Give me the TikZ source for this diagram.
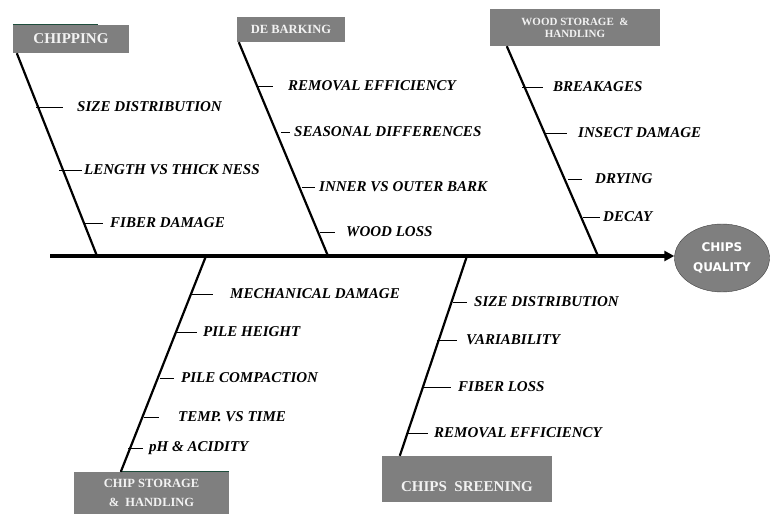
\documentclass[tikz,border=0pt]{standalone}
\usepackage{fontspec}
\setmainfont{Liberation Serif}
\newfontfamily\qualityfont{DejaVu Sans}
\usepackage{tikz}
\usetikzlibrary{arrows.meta,positioning,shapes.geometric,calc}
\definecolor{BoneGray}{HTML}{7F7F7F}
\definecolor{BoneText}{HTML}{F2F2F2}
\definecolor{BoneEdge}{HTML}{404040}
\definecolor{BoneGreen}{HTML}{1E4D3C}

\begin{document}
\begin{tikzpicture}[x=1pt, y=-1pt,
  cause/.style={fill=BoneGray, text=BoneText, inner sep=0pt, font=\bfseries},
  factor/.style={anchor=west, inner sep=0pt, font=\fontsize{15}{17}\selectfont\bfseries\itshape},
  bone/.style={line width=2.2pt},
  tick/.style={line width=0.9pt}]
\useasboundingbox (0,0) rectangle (772,514);
% head and spine
\node[ellipse, draw=BoneEdge, fill=BoneGray, text=white, minimum width=95pt, minimum height=68pt, inner sep=0pt, align=center, font=\qualityfont\bfseries\fontsize{12}{20}\selectfont] (quality) at (722,258) {CHIPS\\QUALITY};
\coordinate (tail) at (50,256);
\draw[line width=3.5pt, -{Triangle[length=10pt,width=10pt]}] (tail) -- (quality.west |- tail);
% cause boxes
\node[cause, minimum width=116pt, minimum height=28pt, font=\fontsize{15}{17}\selectfont\bfseries] (chipping) at (71,39) {CHIPPING};
\node[cause, minimum width=108pt, minimum height=25pt, font=\fontsize{12.5}{14}\selectfont\bfseries] (debarking) at (291,29.5) {DE BARKING};
\node[cause, minimum width=170pt, minimum height=37pt, align=center, font=\fontsize{11}{12}\selectfont\bfseries] (woodstore) at (575,27.5) {WOOD STORAGE \ \&\\HANDLING};
\node[cause, minimum width=155pt, minimum height=42pt, align=center, font=\fontsize{12.5}{19}\selectfont\bfseries] (chipstore) at (151.5,493) {CHIP STORAGE\\\&\ \ HANDLING};
\node[cause, minimum width=170pt, minimum height=46pt, text height=24pt, text depth=0pt, font=\fontsize{15}{17}\selectfont\bfseries] (screening) at (467,479) {CHIPS \ SREENING};
\draw[BoneGreen, line width=1pt] (chipping.north west) -- ++(85,0);
\draw[BoneGreen, line width=1pt] (chipstore.north east) -- ++(-109,0);
% bones to the spine
\coordinate (s1) at (97,256);
\coordinate (s2) at (328,256);
\coordinate (s3) at (598,256);
\coordinate (s4) at (206,256);
\coordinate (s5) at (467,256);
\draw[bone] ([xshift=4pt]chipping.south west) -- (s1);
\draw[bone] ([xshift=2pt]debarking.south west) -- (s2);
\draw[bone] ([xshift=17pt]woodstore.south west) -- (s3);
\draw[bone] ([xshift=47pt]chipstore.north west) -- (s4);
\draw[bone] ([xshift=18pt]screening.north west) -- (s5);
% chipping
\node[factor] (c1) at (77,107) {SIZE DISTRIBUTION};
\node[factor] (c2) at (84,170) {LENGTH VS THICK NESS};
\node[factor] (c3) at (110,223) {FIBER DAMAGE};
\coordinate (c1t) at (36,107);
\coordinate (c2t) at (59,170);
\coordinate (c3t) at (83,223);
\draw[tick] (c1t) -- ([xshift=-14pt]c1.west);
\draw[tick] (c2t) -- ([xshift=-2pt]c2.west);
\draw[tick] (c3t) -- ([xshift=-7pt]c3.west);
% de barking
\node[factor] (d1) at (288,86) {REMOVAL EFFICIENCY};
\node[factor] (d2) at (294,132) {SEASONAL DIFFERENCES};
\node[factor] (d3) at (319,187) {INNER VS OUTER BARK};
\node[factor] (d4) at (346,232) {WOOD LOSS};
\coordinate (d1t) at (257,86);
\coordinate (d2t) at (281,132);
\coordinate (d3t) at (302,187);
\coordinate (d4t) at (320,232);
\draw[tick] (d1t) -- ([xshift=-15pt]d1.west);
\draw[tick] (d2t) -- ([xshift=-4pt]d2.west);
\draw[tick] (d3t) -- ([xshift=-4pt]d3.west);
\draw[tick] (d4t) -- ([xshift=-11pt]d4.west);
% wood storage and handling
\node[factor] (w1) at (553,87) {BREAKAGES};
\node[factor] (w2) at (578,133) {INSECT DAMAGE};
\node[factor] (w3) at (595,179) {DRYING};
\node[factor] (w4) at (603,217) {DECAY};
\coordinate (w1t) at (522,87);
\coordinate (w2t) at (545,133);
\coordinate (w3t) at (568,179);
\coordinate (w4t) at (583,217);
\draw[tick] (w1t) -- ([xshift=-10pt]w1.west);
\draw[tick] (w2t) -- ([xshift=-11pt]w2.west);
\draw[tick] (w3t) -- ([xshift=-13pt]w3.west);
\draw[tick] (w4t) -- ([xshift=-3pt]w4.west);
% chip storage and handling
\node[factor] (h1) at (230,294) {MECHANICAL DAMAGE};
\node[factor] (h2) at (203,332) {PILE HEIGHT};
\node[factor] (h3) at (181,378) {PILE COMPACTION};
\node[factor] (h4) at (178,417) {TEMP. VS TIME};
\node[factor] (h5) at (149,448) {pH \& ACIDITY};
\coordinate (h1t) at (190,294);
\coordinate (h2t) at (177,332);
\coordinate (h3t) at (160,378);
\coordinate (h4t) at (144,417);
\coordinate (h5t) at (128,448);
\draw[tick] (h1t) -- ([xshift=-17pt]h1.west);
\draw[tick] (h2t) -- ([xshift=-6pt]h2.west);
\draw[tick] (h3t) -- ([xshift=-7pt]h3.west);
\draw[tick] (h4t) -- ([xshift=-19pt]h4.west);
\draw[tick] (h5t) -- ([xshift=-6pt]h5.west);
% chips screening
\node[factor] (r1) at (474,302) {SIZE DISTRIBUTION};
\node[factor] (r2) at (466,340) {VARIABILITY};
\node[factor] (r3) at (458,387) {FIBER LOSS};
\node[factor] (r4) at (434,433) {REMOVAL EFFICIENCY};
\coordinate (r1t) at (453,302);
\coordinate (r2t) at (437,340);
\coordinate (r3t) at (423,387);
\coordinate (r4t) at (407,433);
\draw[tick] (r1t) -- ([xshift=-7pt]r1.west);
\draw[tick] (r2t) -- ([xshift=-9pt]r2.west);
\draw[tick] (r3t) -- ([xshift=-7pt]r3.west);
\draw[tick] (r4t) -- ([xshift=-6pt]r4.west);
\end{tikzpicture}
\end{document}
